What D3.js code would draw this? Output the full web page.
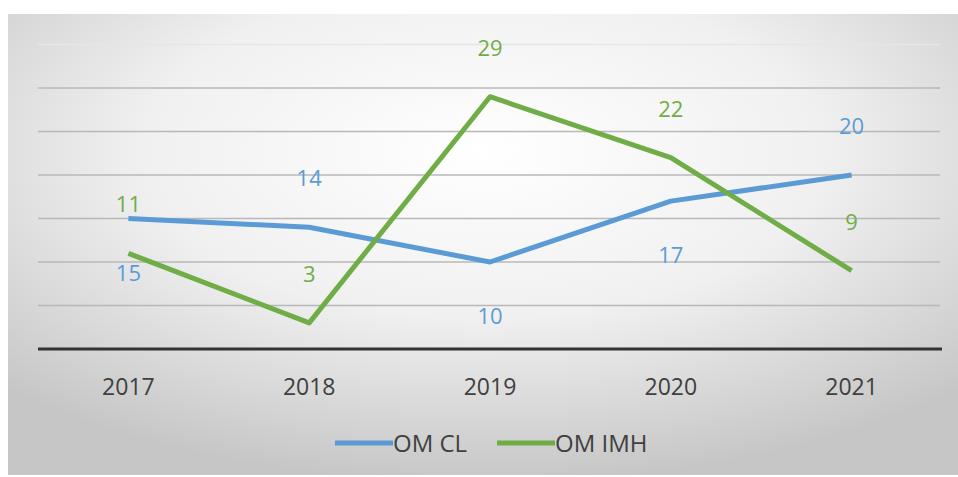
<!DOCTYPE html>
<html>
<head>
<meta charset="utf-8">
<script src="https://cdn.jsdelivr.net/npm/d3@7"></script>
<style>
  body { margin: 0; background: #fff; }
  text { font-family: "Open Sans", sans-serif; }
</style>
</head>
<body>
<div id="chart"></div>
<script>
var years = ["2017", "2018", "2019", "2020", "2021"];
var omCL = [15, 14, 10, 17, 20];
var omIMH = [11, 3, 29, 22, 9];
// which side of the point each data label sits on
var clLabelSide = ["below", "above", "below", "below", "above"];
var imhLabelSide = ["above", "above", "above", "above", "above"];
var gridTicks = [5, 10, 15, 20, 25, 30, 35];

var width = 958, height = 477;
var margin = {top: 0, left: 38, right: 16, bottom: 0};

var svg = d3.select("#chart").append("svg")
    .attr("width", width)
    .attr("height", height);

// panel background
var defs = svg.append("defs");
var grad = defs.append("radialGradient")
    .attr("id", "bg")
    .attr("cx", "50%").attr("cy", "30%").attr("r", "72%");
grad.append("stop").attr("offset", "0%").attr("stop-color", "#ffffff");
grad.append("stop").attr("offset", "50%").attr("stop-color", "#f0f0f0");
grad.append("stop").attr("offset", "100%").attr("stop-color", "#c6c6c6");

svg.append("rect")
    .attr("x", 8).attr("y", 14)
    .attr("width", width - 8).attr("height", height - 16)
    .attr("fill", "url(#bg)");

var x = d3.scaleBand()
    .domain(years)
    .range([margin.left, width - margin.right]);

var y = d3.scaleLinear()
    .domain([0, 35])
    .range([349, 44.5]);

// gridlines
svg.append("g")
    .selectAll("line")
    .data(gridTicks)
    .enter().append("line")
    .attr("x1", margin.left)
    .attr("x2", width - margin.right - 2)
    .attr("y1", function(d) { return y(d); })
    .attr("y2", function(d) { return y(d); })
    .attr("stroke", function(d) { return d == 35 ? "#e6e6e6" : "#b8b8b8"; })
    .attr("stroke-width", 1.5);

// baseline
svg.append("line")
    .attr("x1", margin.left)
    .attr("x2", width - margin.right)
    .attr("y1", y(0)).attr("y2", y(0))
    .attr("stroke", "#333")
    .attr("stroke-width", 3);

// x axis labels
svg.append("g")
    .attr("transform", "translate(0," + y(0) + ")")
    .call(d3.axisBottom(x).tickSize(0))
    .call(function(g) { g.select(".domain").remove(); })
    .selectAll("text")
    .attr("y", 46)
    .attr("dy", 0)
    .attr("font-size", 23)
    .attr("fill", "#404040")
    .style("font-family", "'Open Sans', sans-serif");

var line = d3.line()
    .x(function(d, i) { return x(years[i]) + x.bandwidth() / 2; })
    .y(function(d) { return y(d); });

var series = [
    {name: "OM CL", values: omCL, color: "#5b9bd5", sides: clLabelSide},
    {name: "OM IMH", values: omIMH, color: "#70ad47", sides: imhLabelSide}
];

series.forEach(function(s) {
    svg.append("path")
        .datum(s.values)
        .attr("fill", "none")
        .attr("stroke", s.color)
        .attr("stroke-width", 5)
        .attr("stroke-linejoin", "round")
        .attr("d", line);
});

series.forEach(function(s) {
    svg.append("g")
        .selectAll("text")
        .data(s.values)
        .enter().append("text")
        .attr("x", function(d, i) { return x(years[i]) + x.bandwidth() / 2; })
        .attr("y", function(d, i) {
            return s.sides[i] == "above" ? y(d) - 41 : y(d) + 62;
        })
        .attr("text-anchor", "middle")
        .attr("font-size", 22)
        .attr("fill", s.color)
        .text(function(d) { return d; });
});

// legend
var legend = svg.append("g");
var legendX = [335, 497];
series.forEach(function(s, i) {
    legend.append("line")
        .attr("x1", legendX[i]).attr("x2", legendX[i] + 58)
        .attr("y1", 443).attr("y2", 443)
        .attr("stroke", s.color)
        .attr("stroke-width", 5);
    legend.append("text")
        .attr("x", legendX[i] + 58)
        .attr("y", 452)
        .attr("font-size", 24)
        .attr("fill", "#404040")
        .text(s.name);
});
</script>
</body>
</html>
